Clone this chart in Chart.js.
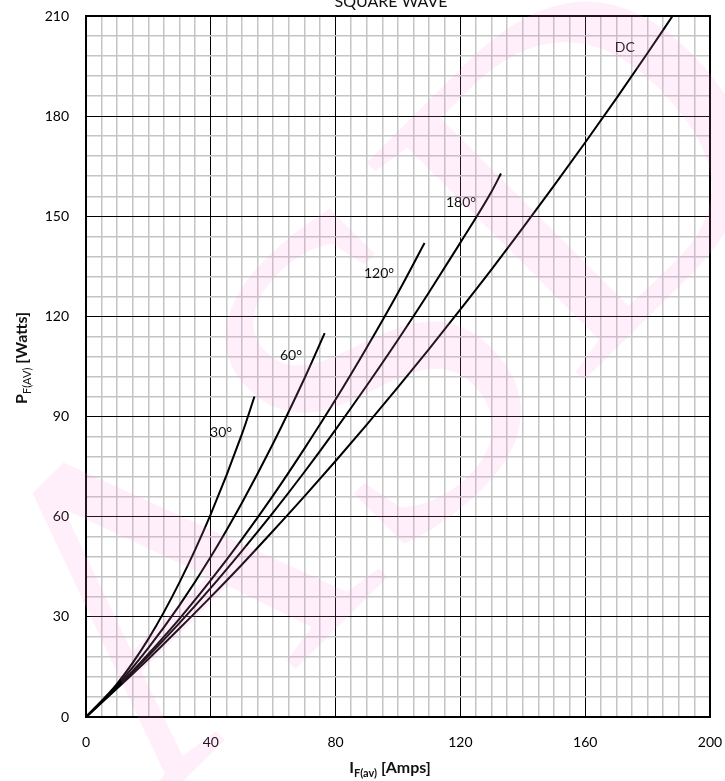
<!DOCTYPE html>
<html>
<head>
<meta charset="utf-8">
<script src="https://cdn.jsdelivr.net/npm/chart.js@4.4.0/dist/chart.umd.min.js"></script>
<style>
  html, body { margin: 0; padding: 0; background: #fff; }
  canvas { display: block; }
</style>
</head>
<body>
<canvas id="lossChart" width="725" height="781"></canvas>
<script>
// Courbes (courant moyen en A, puissance en W)
const dcI = [0, 10, 20, 30, 40, 50, 60, 70, 80, 90, 100, 110, 120, 130, 140, 150, 160, 170, 180, 188];
const dcP = [0, 8.6, 17.4, 26.6, 36, 45.7, 55.8, 66.1, 76.7, 87.6, 98.8, 110.3, 122.1, 134.1, 146.5, 159.2, 172.1, 185.3, 198.9, 210];
const sq180I = [0, 10, 20, 30, 40, 50, 60, 70, 80, 90, 100, 110, 120, 130, 133];
const sq180P = [0, 8.9, 18.3, 28.2, 38.7, 49.8, 61.3, 73.4, 86.1, 99.3, 113, 127.3, 142.1, 157.4, 162.8];
const sq120I = [0, 10, 20, 30, 40, 50, 60, 70, 80, 90, 100, 108.5];
const sq120P = [0, 9.0, 18.9, 29.5, 41.0, 53.3, 66.4, 80.4, 95.1, 110.7, 127.1, 142];
const sq60I = [0, 10, 20, 30, 40, 50, 60, 70, 76.5];
const sq60P = [0, 9.5, 20.7, 33.5, 48.0, 64.2, 82.0, 101.4, 115];
const sq30I = [0, 10, 20, 30, 40, 50, 54];
const sq30P = [0, 10, 23.4, 40.4, 60.8, 84.8, 96];

// Étiquettes des courbes
const curveLabels = ['DC', '180°', '120°', '60°', '30°'];
const curveLabelI = [172.7, 120.2, 93.9, 65.7, 43.3];
const curveLabelP = [200.7, 154, 133, 108.2, 85.1];

// Axes
const xMax = 200, xMajor = 40, xMinor = 5;
const yMax = 210, yMajor = 30, yMinor = 6;

const FONT = 'Lato, "Open Sans", sans-serif';

function toPoints(xs, ys) {
    return xs.map((x, i) => ({ x: x, y: ys[i] }));
}

function curve(label, xs, ys) {
    return {
        label: label,
        data: toPoints(xs, ys),
        borderColor: '#000',
        borderWidth: 2,
        pointRadius: 0,
        fill: false,
        cubicInterpolationMode: 'monotone'
    };
}

// Texte avec indice (titres d'axes)
function drawRich(ctx, parts, cx, cy) {
    let total = 0;
    parts.forEach(p => { ctx.font = p.font; total += ctx.measureText(p.text).width; });
    let x = cx - total / 2;
    ctx.textAlign = 'left';
    ctx.textBaseline = 'alphabetic';
    parts.forEach(p => {
        ctx.font = p.font;
        ctx.fillText(p.text, x, cy + (p.dy || 0));
        x += ctx.measureText(p.text).width;
    });
}

const decorPlugin = {
    id: 'decor',
    afterDatasetsDraw(chart) {
        const ctx = chart.ctx;
        const xs = chart.scales.x, ys = chart.scales.y;
        const area = chart.chartArea;

        // cadre du graphique
        ctx.save();
        ctx.strokeStyle = '#000';
        ctx.lineWidth = 2;
        ctx.strokeRect(area.left, area.top, area.right - area.left, area.bottom - area.top);

        // étiquettes des courbes
        ctx.fillStyle = '#111';
        ctx.font = '14px ' + FONT;
        ctx.textAlign = 'center';
        ctx.textBaseline = 'middle';
        curveLabels.forEach((t, i) => {
            ctx.fillText(t, xs.getPixelForValue(curveLabelI[i]), ys.getPixelForValue(curveLabelP[i]));
        });

        // titre (coupé en haut)
        ctx.font = '16px ' + FONT;
        ctx.textBaseline = 'alphabetic';
        ctx.fillText('SQUARE WAVE', 391, 7);

        // titre axe X
        drawRich(ctx, [
            { text: 'I', font: 'bold 16px ' + FONT },
            { text: 'F(av)', font: 'bold 11px ' + FONT, dy: 4 },
            { text: ' [Amps]', font: 'bold 16px ' + FONT }
        ], 390, 773);

        // titre axe Y
        ctx.translate(27, 358);
        ctx.rotate(-Math.PI / 2);
        drawRich(ctx, [
            { text: 'P', font: 'bold 16px ' + FONT },
            { text: 'F(AV)', font: '11px ' + FONT, dy: 4 },
            { text: ' [Watts]', font: 'bold 16px ' + FONT }
        ], 0, 0);
        ctx.restore();
    },
    afterDraw(chart) {
        // filigrane rose, très pâle, par-dessus tout
        const ctx = chart.ctx;
        ctx.save();
        ctx.translate(395, 395);
        ctx.rotate(-Math.PI / 4);
        ctx.fillStyle = 'rgba(245, 140, 225, 0.14)';
        ctx.font = '470px "Liberation Serif", "DejaVu Serif", serif';
        ctx.textAlign = 'center';
        ctx.textBaseline = 'middle';
        ctx.fillText('ASD', 0, 0);
        ctx.restore();
    }
};

new Chart(document.getElementById('lossChart'), {
    type: 'line',
    data: {
        datasets: [
            curve('DC', dcI, dcP),
            curve('180°', sq180I, sq180P),
            curve('120°', sq120I, sq120P),
            curve('60°', sq60I, sq60P),
            curve('30°', sq30I, sq30P)
        ]
    },
    options: {
        responsive: false,
        animation: false,
        layout: { padding: { left: 0, right: 15, top: 16, bottom: 0 } },
        plugins: {
            legend: { display: false },
            tooltip: { enabled: false }
        },
        scales: {
            x: {
                type: 'linear',
                min: 0,
                max: xMax,
                afterFit: s => { s.height = 64; s.paddingLeft = 0; s.paddingRight = 0; },
                border: { display: true, color: '#000', width: 2 },
                grid: {
                    drawTicks: false,
                    color: c => (c.tick.value % xMajor === 0 ? '#000' : '#c4c4c4'),
                    lineWidth: c => (c.tick.value % xMajor === 0 ? 1 : 1.5)
                },
                ticks: {
                    stepSize: xMinor,
                    autoSkip: false,
                    maxRotation: 0,
                    padding: 17,
                    color: '#000',
                    font: { family: FONT, size: 14 },
                    callback: v => (v % xMajor === 0 ? v : '')
                }
            },
            y: {
                type: 'linear',
                min: 0,
                max: yMax,
                afterFit: s => { s.width = 86; s.paddingTop = 0; s.paddingBottom = 0; },
                border: { display: true, color: '#000', width: 2 },
                grid: {
                    drawTicks: false,
                    color: c => (c.tick.value % yMajor === 0 ? '#000' : '#c4c4c4'),
                    lineWidth: c => (c.tick.value % yMajor === 0 ? 1 : 1.5)
                },
                ticks: {
                    stepSize: yMinor,
                    autoSkip: false,
                    padding: 17,
                    color: '#000',
                    font: { family: FONT, size: 14 },
                    callback: v => (v % yMajor === 0 ? v : '')
                }
            }
        }
    },
    plugins: [decorPlugin]
});
</script>
</body>
</html>
